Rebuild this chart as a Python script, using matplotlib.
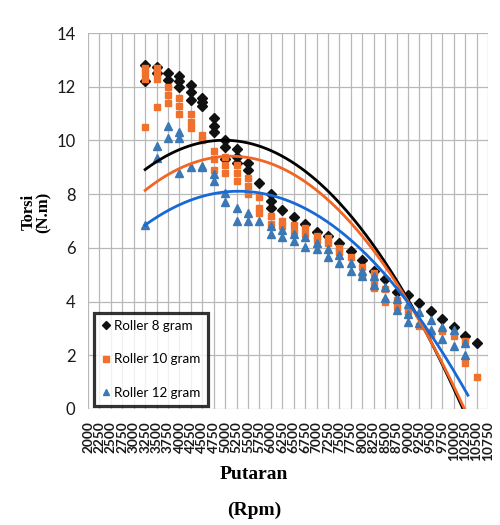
import numpy as np
import matplotlib
matplotlib.use('Agg')
import matplotlib.pyplot as plt
from matplotlib.lines import Line2D

# rpm columns of the measurements
rpm = [3250, 3500, 3750, 4000, 4250, 4500, 4750, 5000, 5250, 5500,
       5750, 6000, 6250, 6500, 6750, 7000, 7250, 7500, 7750, 8000,
       8250, 8500, 8750, 9000, 9250, 9500, 9750, 10000, 10250, 10500]

# torque readings (N.m), several per rpm column
torsi_8 = [[12.8, 12.2], [12.75, 12.5], [12.5, 12.25], [12.4, 12.2, 12.0],
           [12.05, 11.8, 11.5], [11.6, 11.45, 11.3], [10.85, 10.55, 10.3],
           [10.0, 9.75, 9.3], [9.7, 9.4, 9.15], [9.15, 8.9], [8.4],
           [8.0, 7.75, 7.5], [7.4], [7.15], [6.9], [6.6], [6.45], [6.2],
           [5.9], [5.55], [5.15], [4.85], [4.35], [4.25], [3.95], [3.65],
           [3.35], [3.05], [2.7], [2.45]]
torsi_10 = [[12.7, 12.5, 12.3, 10.5], [12.7, 12.5, 12.3, 11.25],
            [12.0, 11.7, 11.4], [11.6, 11.3, 11.0], [11.0, 10.7, 10.45],
            [10.2, 10.0], [9.6, 9.3, 8.9], [9.4, 9.1, 8.8], [9.1, 8.8, 8.5],
            [8.6, 8.3, 8.0], [7.9, 7.5, 7.3], [7.2, 6.9], [7.0, 6.8],
            [6.85, 6.6], [6.75, 6.5], [6.45, 6.3], [6.35, 6.2], [6.0, 5.85],
            [5.65], [5.3, 4.95], [5.05, 4.75, 4.5], [4.45, 4.0], [4.05, 3.8],
            [3.6], [3.1], [2.8], [2.9], [2.7], [2.55, 1.7], [1.2]]
torsi_12 = [[6.85], [9.8, 9.35], [10.55, 10.1], [10.3, 10.1, 8.8], [9.0],
            [9.0, 9.05], [8.75, 8.5], [8.05, 7.7], [7.5, 7.0], [7.3, 7.0],
            [7.0], [6.8, 6.5], [6.65, 6.4], [6.5, 6.25], [6.4, 6.05],
            [6.2, 5.95], [5.95, 5.65], [5.75, 5.45], [5.45, 5.15],
            [5.15, 4.95], [4.95, 4.6], [4.55, 4.15], [4.1, 3.7],
            [3.9, 3.55, 3.25], [3.6, 3.2], [3.3, 2.95], [3.05, 2.6],
            [2.95, 2.35], [2.45, 2.0], []]

trend_rpm_8 = [3250, 5000, 5500, 7350, 8450, 9050, 10200]
trend_val_8 = [8.85, 10.09, 9.95, 8.04, 5.43, 3.8, 0.15]
trend_rpm_10 = [3250, 5050, 5550, 9000, 10180]
trend_val_10 = [8.19, 9.38, 9.27, 4.17, 0.1]
trend_rpm_12 = [3250, 3750, 5050, 5450, 6550, 7500, 7950, 10310]
trend_val_12 = [6.85, 7.41, 8.03, 8.09, 7.72, 6.66, 5.92, 0.52]

labels = ['Roller 8 gram', 'Roller 10 gram', 'Roller 12 gram']
xticks = list(range(2000, 10751, 250))


def flatten(cols):
    xs, ys = [], []
    for r, vals in zip(rpm, cols):
        for v in vals:
            xs.append(r)
            ys.append(v)
    return xs, ys


fig = plt.figure(figsize=(5, 5.25), dpi=100)
ax = fig.add_axes([0.176, 0.221, 0.8, 0.716])

series = [
    (torsi_8, 'D', '#111111', 5.3, trend_rpm_8, trend_val_8, '#000000'),
    (torsi_10, 's', '#F0712C', 5.0, trend_rpm_10, trend_val_10, '#F26522'),
    (torsi_12, '^', '#3B78B4', 6.0, trend_rpm_12, trend_val_12, '#1769D6'),
]

handles = []
for data, mk, col, ms, trx, try_, lcol in series:
    xs, ys = flatten(data)
    ax.plot(xs, ys, linestyle='none', marker=mk, color=col, ms=ms, zorder=3)
    coef = np.polyfit(trx, try_, 2)
    xx = np.linspace(3250, 10310, 200)
    ax.plot(xx, np.polyval(coef, xx), color=lcol, lw=2.0, zorder=4)
    handles.append(Line2D([], [], linestyle='none', marker=mk, color=col,
                          ms=ms * 0.8))

ax.set_xlim(2000, 10750)
ax.set_ylim(0, 14)
ax.set_xticks(xticks)
ax.set_xticklabels([str(t) for t in xticks], rotation=90,
                   fontsize=9.8, fontweight='bold', family='Lato', color='#1a1a1a')
ax.set_yticks(range(0, 15, 2))
ax.set_yticklabels([str(t) for t in range(0, 15, 2)],
                   fontsize=12, family='Lato', color='#1a1a1a')
ax.tick_params(length=0, pad=9)
ax.grid(True, color='#B8B8B8', lw=0.9)
ax.set_axisbelow(True)
for s in ax.spines.values():
    s.set_visible(False)

leg = ax.legend(handles, labels, loc='lower left', bbox_to_anchor=(0.015, 0.008),
                frameon=True, fancybox=False, handletextpad=0.25, handlelength=0.7,
                labelspacing=1.6, borderpad=0.55, borderaxespad=0.0,
                prop={'family': 'Lato', 'size': 9.6})
leg.get_frame().set_edgecolor('black')
leg.get_frame().set_linewidth(2.3)

fig.text(0.072, 0.596, 'Torsi\n(N.m)', rotation=90, ha='center', va='center',
         family='Liberation Serif', fontweight='bold', fontsize=12, linespacing=0.95)
fig.text(0.508, 0.097, 'Putaran', ha='center', va='center',
         family='Liberation Serif', fontweight='bold', fontsize=14)
fig.text(0.508, 0.028, '(Rpm)', ha='center', va='center',
         family='Liberation Serif', fontweight='bold', fontsize=14)

fig.savefig('out.png', dpi=100)
